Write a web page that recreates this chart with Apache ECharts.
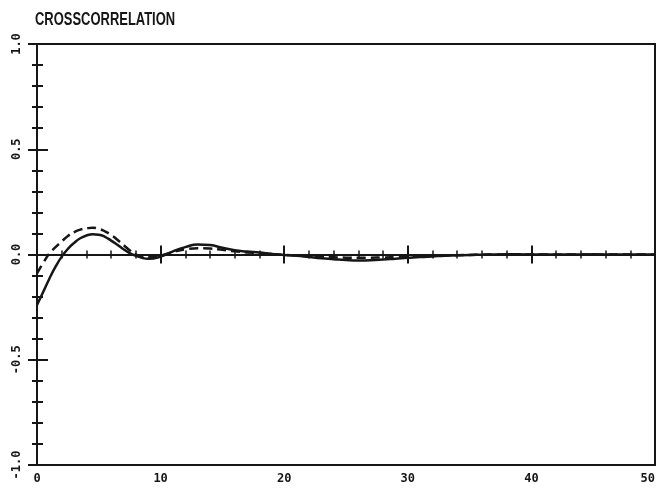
<!DOCTYPE html>
<html>
<head>
<meta charset="utf-8">
<script src="https://cdn.jsdelivr.net/npm/echarts@6/dist/echarts.min.js"></script>
<style>
  html, body { margin: 0; padding: 0; background: #fff; }
  #chart { width: 658px; height: 488px; }
</style>
</head>
<body>
<div id="chart"></div>
<script>
// values (half steps where the curves bend most)
const titleText = 'CROSSCORRELATION'
const lags = [0, 0.5, 1, 1.5, 2, 2.5, 3, 3.5, 4, 4.5, 5, 5.5, 6, 6.5, 7, 7.5, 8, 8.5, 9, 10,
  11, 12, 13, 14, 15, 16, 17, 18, 19, 20,
  21, 22, 23, 24, 25, 26, 27, 28, 29, 30, 31, 32, 33, 34, 35, 36, 37, 38, 39, 40,
  41, 42, 43, 44, 45, 46, 47, 48, 49, 50]
const solidCorr = [-0.24, -0.178, -0.115, -0.058, -0.01, 0.027, 0.055, 0.077, 0.09, 0.096,
  0.094, 0.084, 0.066, 0.046, 0.025, 0.007, -0.006, -0.016, -0.02, -0.01,
  0.015, 0.035, 0.048, 0.045, 0.032, 0.02, 0.014, 0.009, 0.003, -0.002,
  -0.006, -0.012, -0.018, -0.022, -0.026, -0.028, -0.027, -0.024, -0.02, -0.016,
  -0.012, -0.009, -0.006, -0.004, -0.002, -0.001, 0, 0.001, 0.001, 0,
  0, -0.001, 0, 0, 0.001, 0, 0, 0, 0, 0]
const dashedCorr = [-0.09, -0.04, 0.005, 0.035, 0.062, 0.088, 0.106, 0.118, 0.124, 0.127,
  0.122, 0.11, 0.093, 0.07, 0.045, 0.02, 0.0, -0.01, -0.012, -0.005,
  0.012, 0.025, 0.03, 0.028, 0.022, 0.015, 0.01, 0.006, 0.002, -0.002,
  -0.005, -0.008, -0.011, -0.013, -0.015, -0.016, -0.015, -0.014, -0.012, -0.01,
  -0.008, -0.006, -0.004, -0.003, -0.002, -0.001, 0, 0, 0.001, 0,
  0, 0, 0, 0, 0, 0, 0, 0, 0, 0]
const xTicks = [0, 10, 20, 30, 40, 50]
const yTicks = [-1.0, -0.5, 0.0, 0.5, 1.0]

const ink = '#161616'
const labelFont = {
  color: ink,
  fontSize: 12,
  fontWeight: 'bold',
  fontFamily: 'DejaVu Sans Mono'
}

const chart = echarts.init(document.getElementById('chart'))

const pairs = (ys) => lags.map((x, i) => [x, ys[i]])

const xBase = {
  type: 'value',
  min: xTicks[0],
  max: xTicks[xTicks.length - 1],
  interval: 10,
  splitLine: { show: false }
}
const yBase = {
  type: 'value',
  min: yTicks[0],
  max: yTicks[yTicks.length - 1],
  interval: 0.5,
  splitLine: { show: false }
}

chart.setOption({
  animation: false,
  backgroundColor: '#fff',
  // condensed plotter-style heading
  graphic: [{
    type: 'text',
    left: 35,
    top: 11,
    scaleX: 0.72,
    style: {
      text: titleText,
      fill: ink,
      font: 'bold 18px "Liberation Sans"'
    }
  }],
  grid: {
    left: 37,
    right: 3,
    top: 44,
    bottom: 23,
    outerBoundsMode: 'none',
    containLabel: false,
    show: true,
    borderColor: ink,
    borderWidth: 2,
    backgroundColor: 'transparent'
  },
  xAxis: [
    // bottom frame with the labels
    Object.assign({}, xBase, {
      position: 'bottom',
      axisLine: { show: false, onZero: false },
      axisTick: { show: false },
      axisLabel: Object.assign({ margin: 8, showMaxLabel: true, alignMaxLabel: 'right' }, labelFont)
    }),
    // zero line, ticks upward
    Object.assign({}, xBase, {
      position: 'bottom',
      axisLine: { show: true, onZero: true, lineStyle: { color: ink, width: 2 } },
      axisTick: { show: true, inside: true, length: 9, lineStyle: { color: ink, width: 2 } },
      minorTick: { show: true, splitNumber: 5, length: 4, lineStyle: { color: ink, width: 1.5 } },
      axisLabel: { show: false }
    }),
    // zero line, ticks downward
    Object.assign({}, xBase, {
      position: 'bottom',
      axisLine: { show: false, onZero: true },
      axisTick: { show: true, inside: false, length: 9, lineStyle: { color: ink, width: 2 } },
      minorTick: { show: true, splitNumber: 5, length: 4, lineStyle: { color: ink, width: 1.5 } },
      axisLabel: { show: false }
    })
  ],
  yAxis: [
    Object.assign({}, yBase, {
      position: 'left',
      axisLine: { show: true, onZero: false, lineStyle: { color: ink, width: 2 } },
      axisTick: { show: true, inside: false, length: 9, lineStyle: { color: ink, width: 2 } },
      minorTick: { show: true, splitNumber: 5, length: 5, lineStyle: { color: ink, width: 2 } },
      axisLabel: Object.assign({
        rotate: 90,
        margin: 14,
        formatter: (v) => v.toFixed(1)
      }, labelFont)
    }),
    Object.assign({}, yBase, {
      position: 'left',
      axisLine: { show: false, onZero: false },
      axisTick: { show: true, inside: true, length: 11, lineStyle: { color: ink, width: 2 } },
      minorTick: { show: true, splitNumber: 5, length: 6, lineStyle: { color: ink, width: 2 } },
      axisLabel: { show: false }
    })
  ],
  series: [
    {
      name: 'solid',
      type: 'line',
      xAxisIndex: 0,
      yAxisIndex: 0,
      data: pairs(solidCorr),
      smooth: true,
      showSymbol: false,
      lineStyle: { color: ink, width: 2.5 },
      z: 5
    },
    {
      name: 'dashed',
      type: 'line',
      xAxisIndex: 0,
      yAxisIndex: 0,
      data: pairs(dashedCorr),
      smooth: true,
      showSymbol: false,
      lineStyle: { color: ink, width: 2.5, type: [9, 5] },
      z: 5
    }
  ]
})
</script>
</body>
</html>
